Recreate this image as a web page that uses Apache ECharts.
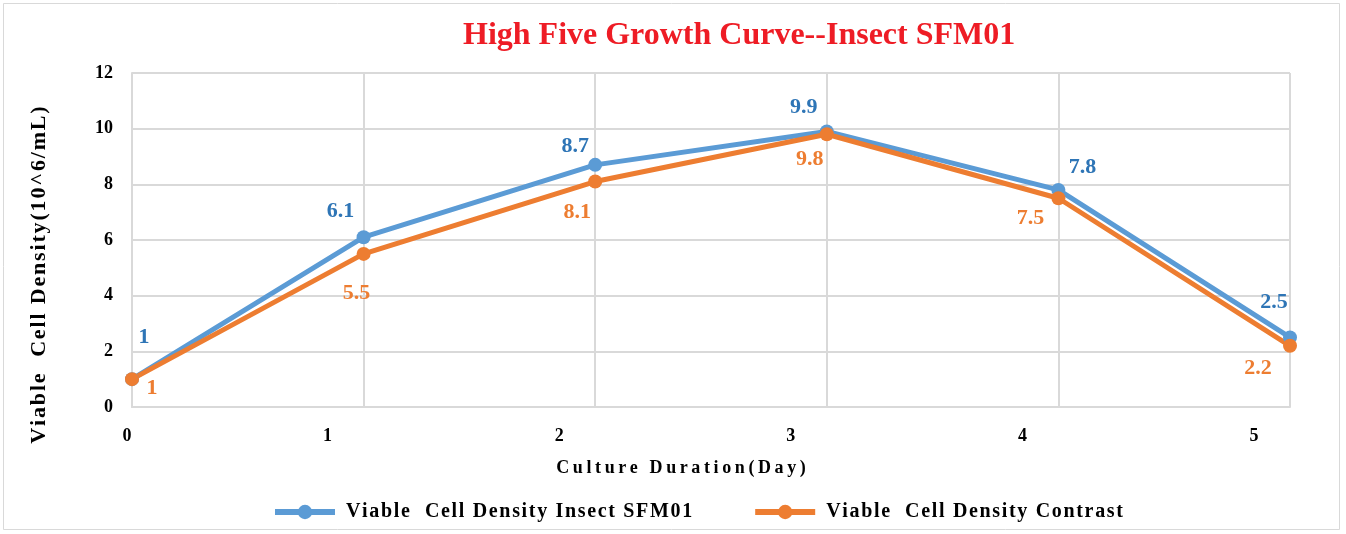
<!DOCTYPE html>
<html><head><meta charset="utf-8">
<script src="https://cdn.jsdelivr.net/npm/echarts@6/dist/echarts.min.js"></script>
<style>html,body{margin:0;padding:0;background:#fff}#c{width:1346px;height:534px}</style>
</head><body><div id="c"></div>
<script>
var days = ['0','1','2','3','4','5'];
var insectSFM01 = [1, 6.1, 8.7, 9.9, 7.8, 2.5];
var contrast = [1, 5.5, 8.1, 9.8, 7.5, 2.2];
var seriesNames = ['Viable  Cell Density Insect SFM01', 'Viable  Cell Density Contrast'];
var yTicks = {min: 0, max: 12, interval: 2};

var blueLabelOffsets = [[12,-42],[-23,-26],[-20,-19],[-23,-24],[24,-23],[-16,-35]];
var orangeLabelOffsets = [[20,9],[-7,39],[-18,31],[-17,25],[-28,20],[-32,23]];

var FONT = '"Liberation Serif","Times New Roman",serif';
function spaced(s, sp){ return s.split('').join(sp); }

var chart = echarts.init(document.getElementById('c'));
function mkData(vals, offs){
  return vals.map(function(v,i){ return {value: v, label: {offset: offs[i]}}; });
}
chart.setOption({
  animation: false,
  backgroundColor: '#fff',
  graphic: [{type:'rect', shape:{x:3.5,y:3.5,width:1336,height:526}, style:{fill:'none', stroke:'#d9d9d9', lineWidth:1}, silent:true}],
  title: {
    text: 'High Five Growth Curve--Insect SFM01',
    left: 458, top: 15,
    textStyle: {color: '#ee1c25', fontFamily: FONT, fontWeight: 'bold', fontSize: 32}
  },
  legend: {
    top: 497, left: 267,
    itemWidth: 60, itemHeight: 18, itemGap: 60,
    lineStyle: {width: 6},
    textStyle: {fontFamily: FONT, fontWeight: 'bold', fontSize: 20, color: '#000', padding: [0,0,0,6]},
    formatter: function(n){ return spaced(n, '\u200A'); }
  },
  grid: {left: 132, right: 56, top: 73, bottom: 127},
  xAxis: {
    type: 'category', data: days, boundaryGap: false,
    name: spaced('Culture Duration(Day)', '\u2009'), nameLocation: 'middle', nameGap: 52,
    nameTextStyle: {fontFamily: FONT, fontWeight: 'bold', fontSize: 18, color: '#000', padding: [0,60,0,0]},
    axisLine: {lineStyle: {color: '#d9d9d9', width: 2}},
    axisTick: {show: false},
    splitLine: {show: true, lineStyle: {color: '#d9d9d9', width: 2}},
    axisLabel: {
      margin: 20, color: '#000', fontFamily: FONT, fontWeight: 'bold', fontSize: 18,
      formatter: function(v, i){ return i === 0 ? '{z|' + v + '}' : '{s|' + v + '}'; },
      rich: {
        z: {fontFamily: FONT, fontWeight: 'bold', fontSize: 18, color: '#000', padding: [0,10,0,0]},
        s: {fontFamily: FONT, fontWeight: 'bold', fontSize: 18, color: '#000', padding: [0,72,0,0]}
      }
    }
  },
  yAxis: {
    type: 'value', min: yTicks.min, max: yTicks.max, interval: yTicks.interval,
    name: spaced('Viable  Cell Density(10^6/mL)', '\u200A'), nameLocation: 'middle', nameGap: 82, nameRotate: 90,
    nameTextStyle: {fontFamily: FONT, fontWeight: 'bold', fontSize: 22, color: '#000', padding: [0,70,0,0]},
    axisLine: {show: true, lineStyle: {color: '#d9d9d9', width: 2}},
    axisTick: {show: false},
    splitLine: {lineStyle: {color: '#d9d9d9', width: 2}},
    axisLabel: {margin: 19, color: '#000', fontFamily: FONT, fontWeight: 'bold', fontSize: 18}
  },
  series: [
    {
      name: seriesNames[0], type: 'line', data: mkData(insectSFM01, blueLabelOffsets),
      symbol: 'circle', symbolSize: 14,
      lineStyle: {color: '#5b9bd5', width: 5},
      itemStyle: {color: '#5b9bd5'},
      label: {show: true, position: 'inside', color: '#2e75b6', fontFamily: FONT, fontWeight: 'bold', fontSize: 22}
    },
    {
      name: seriesNames[1], type: 'line', data: mkData(contrast, orangeLabelOffsets),
      symbol: 'circle', symbolSize: 14,
      lineStyle: {color: '#ed7d31', width: 5},
      itemStyle: {color: '#ed7d31'},
      label: {show: true, position: 'inside', color: '#ed7d31', fontFamily: FONT, fontWeight: 'bold', fontSize: 22}
    }
  ]
});
</script></body></html>
